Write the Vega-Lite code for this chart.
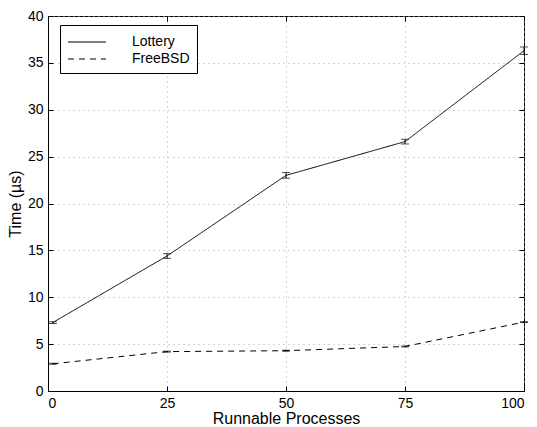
{
  "$schema": "https://vega.github.io/schema/vega-lite/v6.json",
  "width": 476,
  "height": 375,
  "autosize": "none",
  "padding": {"left": 48, "top": 16, "right": 13, "bottom": 36},
  "background": "white",
  "config": {
    "font": "Liberation Sans",
    "view": {"stroke": "black", "strokeWidth": 1},
    "axis": {
      "labelFont": "Liberation Sans", "titleFont": "Liberation Sans",
      "labelFontSize": 14, "titleFontSize": 16, "titleFontWeight": "normal",
      "labelColor": "black", "titleColor": "black",
      "domainColor": "black", "tickColor": "black",
      "gridColor": "#aaa", "gridDash": [1, 4], "gridOpacity": 1,
      "tickSize": -5, "labelPadding": 10
    }
  },
  "resolve": {"axis": {"x": "independent", "y": "independent"}},
  "data": {"values": [
    {"x": 1, "series": "Lottery", "y": 7.3, "lo": 7.2, "hi": 7.4},
    {"x": 25, "series": "Lottery", "y": 14.4, "lo": 14.15, "hi": 14.65},
    {"x": 50, "series": "Lottery", "y": 23.0, "lo": 22.7, "hi": 23.3},
    {"x": 75, "series": "Lottery", "y": 26.6, "lo": 26.35, "hi": 26.85},
    {"x": 100, "series": "Lottery", "y": 36.3, "lo": 35.9, "hi": 36.7},
    {"x": 1, "series": "FreeBSD", "y": 2.9, "lo": 2.85, "hi": 2.95},
    {"x": 25, "series": "FreeBSD", "y": 4.2, "lo": 4.15, "hi": 4.25},
    {"x": 50, "series": "FreeBSD", "y": 4.3, "lo": 4.25, "hi": 4.35},
    {"x": 75, "series": "FreeBSD", "y": 4.75, "lo": 4.7, "hi": 4.8},
    {"x": 100, "series": "FreeBSD", "y": 7.35, "lo": 7.3, "hi": 7.4}
  ]},
  "layer": [
    {
      "mark": {"type": "line", "color": "black", "strokeWidth": 1},
      "encoding": {
        "x": {"field": "x", "type": "quantitative", "scale": {"domain": [0, 100], "nice": false},
              "axis": {"values": [0, 25, 50, 75, 100], "title": "Runnable Processes", "titlePadding": 0}},
        "y": {"field": "y", "type": "quantitative", "scale": {"domain": [0, 40], "nice": false},
              "axis": {"values": [0, 5, 10, 15, 20, 25, 30, 35, 40], "title": "Time (µs)", "titlePadding": 4}},
        "strokeDash": {"field": "series", "type": "nominal",
          "scale": {"domain": ["Lottery", "FreeBSD"], "range": [[1, 0], [6, 5]]},
          "legend": {"title": null, "orient": "none", "legendX": 12, "legendY": 9,
                     "direction": "vertical", "symbolType": "M-2,0H2", "symbolSize": 361,
                     "symbolStrokeColor": "black", "symbolStrokeWidth": 1,
                     "labelFontSize": 14, "labelFont": "Liberation Sans", "labelColor": "black",
                     "strokeColor": "black", "fillColor": "white", "padding": 7,
                     "rowPadding": -3, "labelOffset": 35, "labelLimit": 200, "symbolOffset": 10}}
      }
    },
    {
      "mark": {"type": "errorbar", "ticks": {"size": 8, "color": "black"}, "color": "black"},
      "encoding": {
        "x": {"field": "x", "type": "quantitative",
              "axis": {"orient": "top", "values": [0, 25, 50, 75, 100], "labels": false, "title": null, "grid": false, "domain": false}},
        "y": {"field": "lo", "type": "quantitative",
              "axis": {"orient": "right", "values": [0, 5, 10, 15, 20, 25, 30, 35, 40], "labels": false, "title": null, "grid": false, "domain": false}},
        "y2": {"field": "hi"}
      }
    }
  ]
}
